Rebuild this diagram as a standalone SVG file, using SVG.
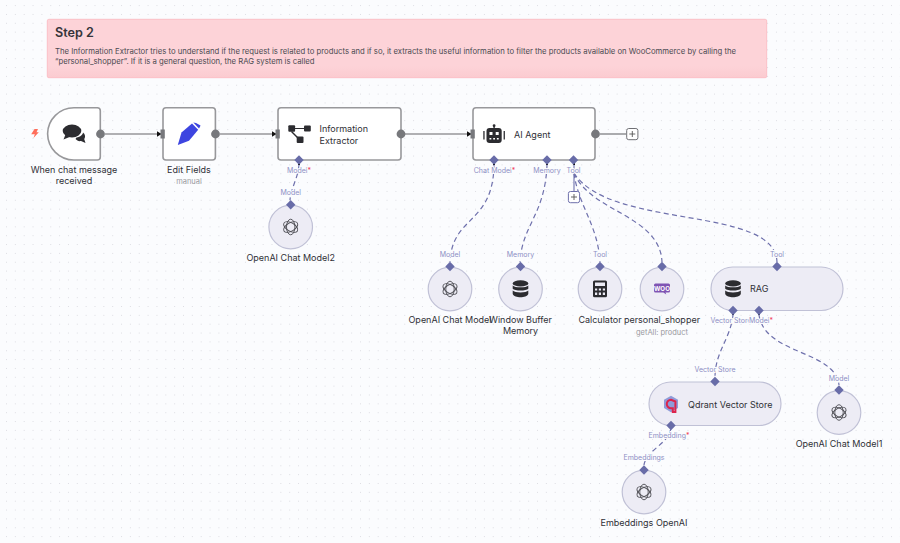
<svg xmlns="http://www.w3.org/2000/svg" width="900" height="543" viewBox="0 0 900 543">
<style>
text{font-family:Inter,"Liberation Sans",sans-serif}
.lbl{font-size:9px;fill:#2f3036;text-anchor:middle}
.sub{font-size:7.5px;fill:#9a9a9f;text-anchor:middle}
.title{font-size:9px;fill:#2f3036}
.port{font-size:7px;fill:#8d8fc4;text-anchor:middle;paint-order:stroke;stroke:#fbfcfe;stroke-width:2px}
.req{fill:#f0405a}
.main{fill:#fff;stroke:#98989b;stroke-width:1.6}
.sub-n{fill:#edecf5;stroke:#c0c1d6;stroke-width:1.2}
.wire{fill:none;stroke:#97979a;stroke-width:1.6}
.dash{fill:none;stroke:#6e70ac;stroke-width:1.2;stroke-dasharray:5 3.4}
.dia{fill:#686ca8}
.out{fill:#77787c}
.inp{fill:#77787c}
.dark{fill:#2c2c30}
.plus{fill:#fff;stroke:#6e6f74;stroke-width:1}
.pl{stroke:#555;stroke-width:.9}
</style>
<defs>
<linearGradient id="stk" x1="0" y1="0" x2="0" y2="1"><stop offset=".8" stop-color="#fdd3d8"/><stop offset="1" stop-color="#fbcbd0"/></linearGradient>
<pattern id="dots" width="8.85" height="8.85" patternUnits="userSpaceOnUse" x="6" y="5.1">
<circle cx=".5" cy=".5" r=".5" fill="#d3d4da"/>
</pattern>
<marker id="arr" markerWidth="5" markerHeight="6" refX="4.5" refY="3" orient="auto" markerUnits="userSpaceOnUse"><path d="M0 0L5 3L0 6z" fill="#111"/></marker>
<path id="dp" d="M0-4.7L4.7 0L0 4.7L-4.7 0z"/>
<g id="oa" fill="none" stroke="#4a4a50" stroke-width=".9">
<ellipse rx="4.2" ry="7.8"/>
<ellipse rx="4.2" ry="7.8" transform="rotate(60)"/>
<ellipse rx="4.2" ry="7.8" transform="rotate(120)"/>
</g>
<g id="db" class="dark">
<ellipse cx="0" cy="-5.600" rx="7.800" ry="3.100"/>
<path d="M-7.800-3.600C-6-1 6-1 7.800-3.600V-.2C6 2.200-6 2.200-7.800-.2zM-7.800 1.600C-6 4.200 6 4.200 7.800 1.600V5C6 9.400-6 9.400-7.800 5z"/>
</g>
</defs>
<rect width="900" height="543" fill="#fbfcfe"/>
<rect width="900" height="543" fill="url(#dots)"/>

<g id="sticky">
<rect x="47.300" y="19.300" width="719.400" height="58.400" rx="1.500" fill="url(#stk)" stroke="#fbb8bf" stroke-width=".8"/>
<text x="55" y="37" font-size="12.600" font-weight="600" fill="#35353a">Step 2</text>
<text x="55" y="54" font-size="7.730" fill="#4a4a50">The Information Extractor tries to understand if the request is related to products and if so, it extracts the useful information to filter the products available on WooCommerce by calling the</text>
<text x="55" y="64" font-size="7.730" fill="#4a4a50">“personal_shopper”. If it is a general question, the RAG system is called</text>
</g>

<g id="connectors">
<path class="wire" d="M105 134H161" marker-end="url(#arr)"/>
<path class="wire" d="M220 134H276" marker-end="url(#arr)"/>
<path class="wire" d="M405 134H471" marker-end="url(#arr)"/>
<path class="wire" d="M600 134H626"/>
<path class="dash" d="M299 165C298 178 291 188 290 200"/>
<path class="dash" d="M494 165C493 225 452 215 450 262"/>
<path class="dash" d="M547 165C545 215 522 225 520 262"/>
<path d="M574 165V193" fill="none" stroke="#6e70ac" stroke-width="1.100"/>
<path class="dash" d="M574 173C578 205 598 225 600 262"/>
<path class="dash" d="M574 173C590 212 660 215 662 262"/>
<path class="dash" d="M574 173C610 230 775 205 777 262"/>
<path class="dash" d="M733 315C730 340 716 350 715 376"/>
<path class="dash" d="M759 315C765 355 835 350 839 385"/>
<path class="dash" d="M671 428C668 445 646 450 644 465"/>
<path d="M299 165v-2M494 165v-2M547 165v-2M574 165v-2M733 315v-2M759 315v-2M671 428v-2" stroke="#111" stroke-width="2"/>
</g>

<g id="n-chat">
<path class="main" d="M74 107.800H97.300a3 3 0 0 1 3 3V157a3 3 0 0 1-3 3H74a26.400 26.400 0 0 1-26.400-26.200a26.400 26.200 0 0 1 26.400-26z"/>
<circle class="out" cx="100.500" cy="134" r="4.400"/>
<path d="M34.500 129H38L36.500 132.200H38.800L33.500 138L34.800 134.200H31.200z" fill="#ff6d5a"/>
<g class="dark">
<ellipse cx="72" cy="131" rx="9.300" ry="6.400"/>
<path d="M65.500 134.500L63.500 139.500L69.500 137z"/>
<path d="M76.500 137.500C80.500 137 83 134.500 83 132.500C85 134 85.800 137 84.200 139L85.500 143L81 141C78.500 141.500 77 140.500 75.500 139z"/>
</g>
<text class="lbl" x="74" y="173">When chat message</text>
<text class="lbl" x="74" y="184">received</text>
</g>

<g id="n-edit">
<rect class="main" x="163" y="107.800" width="52.400" height="52.200" rx="3"/>
<rect class="inp" x="160.500" y="129.500" width="4.300" height="9"/>
<circle class="out" cx="215.500" cy="134" r="4.400"/>
<path fill="#3d45e0" d="M177.800 145L181.500 132.500L192 123.500L198.200 129.800L189 140.800z"/>
<path fill="#3d45e0" d="M193.300 122.500L196 123L200.500 125.500Q200 127 199 128.500z"/>
<text class="lbl" x="189" y="173">Edit Fields</text>
<text class="sub" x="189" y="184">manual</text>
</g>

<g id="n-extractor">
<rect class="main" x="278" y="107.800" width="123" height="52.200" rx="3"/>
<rect class="inp" x="275.500" y="129.500" width="4.300" height="9"/>
<circle class="out" cx="401" cy="134" r="4.400"/>
<g class="dark">
<rect x="288.300" y="125.300" width="6.800" height="6.400" rx="1"/><rect x="304" y="125.500" width="6.800" height="6" rx="1"/><rect x="296.700" y="136.500" width="6.800" height="6.400" rx="1"/>
<path d="M295 128h9v1h-9zM292 131l6 6-1 1-6-6z"/>
</g>
<text class="title" x="319.500" y="132">Information</text>
<text class="title" x="319.500" y="143.500">Extractor</text>
<use href="#dp" class="dia" x="299" y="160"/>
<text class="port" x="299" y="173">Model<tspan class="req">*</tspan></text>
</g>

<g id="n-agent">
<rect class="main" x="473" y="107.800" width="122" height="52.200" rx="3"/>
<rect class="inp" x="470.500" y="129.500" width="4.300" height="9"/>
<circle class="out" cx="595.500" cy="134" r="4.400"/>
<g class="dark">
<rect x="486.500" y="128" width="15.200" height="15" rx="3"/>
<rect x="483.300" y="131" width="1.300" height="8.500"/><rect x="503.600" y="131" width="1.300" height="8.500"/>
<rect x="493.400" y="125" width="1.400" height="3.500"/><circle cx="494.100" cy="125.700" r="1.400"/>
</g>
<rect x="489.500" y="132" width="3" height="3" fill="#fff"/><rect x="495.700" y="132" width="3" height="3" fill="#fff"/>
<rect x="489.500" y="138" width="1.800" height="1.500" fill="#fff"/><rect x="493.200" y="138" width="1.800" height="1.500" fill="#fff"/><rect x="496.900" y="138" width="1.800" height="1.500" fill="#fff"/>
<text class="title" x="514" y="137.500">AI Agent</text>
<use href="#dp" class="dia" x="494" y="160"/>
<use href="#dp" class="dia" x="547" y="160"/>
<use href="#dp" class="dia" x="573.500" y="160"/>
<text class="port" x="494.500" y="173">Chat Model<tspan class="req">*</tspan></text>
<text class="port" x="547" y="173">Memory</text>
<text class="port" x="573.500" y="173">Tool</text>
</g>

<g id="plus-main">
<rect class="plus" x="626.700" y="128.500" width="11.200" height="11.200" rx="2"/>
<path class="pl" d="M632.300 131v6M629.300 134h6"/>
</g>
<g id="plus-tool">
<rect x="568.400" y="191.500" width="11.200" height="11.200" rx="2" fill="#fff" stroke="#6e70ac"/>
<path class="pl" d="M574 194v6M571 197h6"/>
</g>

<g id="n-openai2">
<circle class="sub-n" cx="290.700" cy="227" r="21.800"/>
<use href="#oa" x="290.700" y="227"/>
<use href="#dp" class="dia" x="290.700" y="204.800"/>
<text class="port" x="290.700" y="195">Model</text>
<text class="lbl" x="290.700" y="261">OpenAI Chat Model2</text>
</g>

<g id="n-openai">
<circle class="sub-n" cx="450" cy="289" r="21.800"/>
<use href="#oa" x="450" y="289"/>
<use href="#dp" class="dia" x="450" y="266.500"/>
<text class="port" x="450" y="257">Model</text>
<text class="lbl" x="450" y="323">OpenAI Chat Model</text>
</g>

<g id="n-memory">
<circle class="sub-n" cx="520.500" cy="289" r="21.800"/>
<use href="#db" x="520.500" y="289"/>
<use href="#dp" class="dia" x="520.500" y="266.500"/>
<text class="port" x="520.500" y="257">Memory</text>
<text class="lbl" x="520.500" y="323">Window Buffer</text>
<text class="lbl" x="520.500" y="334">Memory</text>
</g>

<g id="n-calc">
<circle class="sub-n" cx="600" cy="289" r="21.800"/>
<rect x="593" y="280.500" width="14" height="16.800" rx="1.500" class="dark"/>
<rect x="595" y="282.500" width="10" height="3.500" fill="#edecf5"/>
<path fill="#edecf5" d="M595 288.500h2.200v2h-2.200zM598.800 288.500h2.200v2h-2.200zM602.800 288.500h2.200v2h-2.200zM595 292.500h2.200v2.500h-2.200zM598.800 292.500h2.200v2.500h-2.200zM602.800 292.500h2.200v2.500h-2.200z"/>
<use href="#dp" class="dia" x="600" y="266.500"/>
<text class="port" x="600" y="257">Tool</text>
<text class="lbl" x="600" y="323">Calculator</text>
</g>

<g id="n-shopper">
<circle class="sub-n" cx="662" cy="289" r="21.800"/>
<path d="M655.500 283.500h13a1.500 1.500 0 0 1 1.500 1.500v6a1.500 1.500 0 0 1-1.500 1.500h-3l.8 2-3-2h-7.800a1.500 1.500 0 0 1-1.500-1.500v-6a1.500 1.500 0 0 1 1.500-1.500z" fill="#7f54b3"/>
<text x="662" y="290.500" font-size="6.200" font-weight="700" fill="#fff" text-anchor="middle">WOO</text>
<use href="#dp" class="dia" x="662" y="266.500"/>
<text class="lbl" x="662" y="323">personal_shopper</text>
<text class="sub" x="662" y="335">getAll: product</text>
</g>

<g id="n-rag">
<rect class="sub-n" x="711" y="267" width="132" height="43.500" rx="21.750"/>
<use href="#db" x="733" y="289"/>
<text class="title" x="750" y="292">RAG</text>
<use href="#dp" class="dia" x="777" y="266.500"/>
<use href="#dp" class="dia" x="733" y="310.500"/>
<use href="#dp" class="dia" x="759" y="310.500"/>
<text class="port" x="777" y="257">Tool</text>
<text class="port" x="731" y="323">Vector Store</text>
<text class="port" x="761" y="323">Model<tspan class="req">*</tspan></text>
</g>

<g id="n-qdrant">
<rect class="sub-n" x="649" y="382" width="132" height="43.500" rx="21.750"/>
<path d="M671 395.800L678 399.800V408L671 412.200L664 408V399.800z" fill="#8f9bd8"/>
<path d="M671 399.800a4.200 4.200 0 1 0 0 8.400h1.800v3.800h2.600V401.500z" fill="none" stroke="#dc244c" stroke-width="2"/>
<text class="title" x="688" y="407.500">Qdrant Vector Store</text>
<use href="#dp" class="dia" x="715" y="381.500"/>
<use href="#dp" class="dia" x="671" y="425.500"/>
<text class="port" x="715" y="372">Vector Store</text>
<text class="port" x="669" y="438">Embedding<tspan class="req">*</tspan></text>
</g>

<g id="n-openai1">
<circle class="sub-n" cx="839" cy="412.500" r="21.800"/>
<use href="#oa" x="839" y="412.500"/>
<use href="#dp" class="dia" x="839" y="390"/>
<text class="port" x="839" y="381">Model</text>
<text class="lbl" x="839" y="447">OpenAI Chat Model1</text>
</g>

<g id="n-embed">
<circle class="sub-n" cx="644" cy="492" r="21.800"/>
<use href="#oa" x="644" y="492"/>
<use href="#dp" class="dia" x="644" y="470"/>
<text class="port" x="644" y="460">Embeddings</text>
<text class="lbl" x="644" y="526">Embeddings OpenAI</text>
</g>
</svg>
